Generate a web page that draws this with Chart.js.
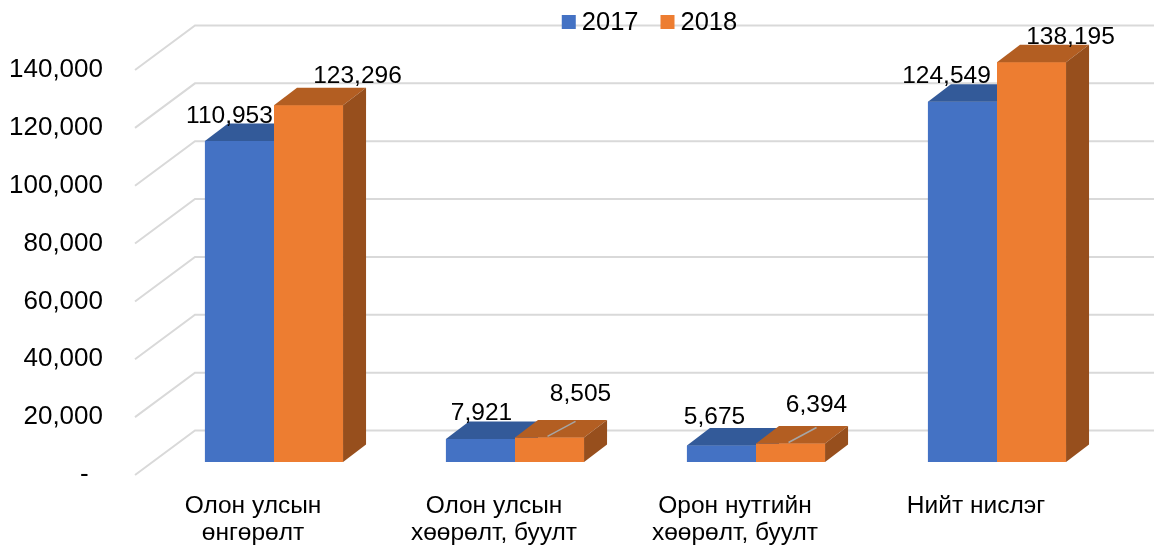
<!DOCTYPE html>
<html>
<head>
<meta charset="utf-8">
<script src="https://cdn.jsdelivr.net/npm/chart.js@4.4.1/dist/chart.umd.min.js"></script>
<style>
  html, body { margin: 0; padding: 0; background: #ffffff; }
  #wrap { width: 1154px; height: 546px; position: relative; }
</style>
</head>
<body>
<div id="wrap"><canvas id="flights"></canvas></div>
<script>
// Flight counts by type, 2017 vs 2018
const categories = [
    ['Олон улсын', 'өнгөрөлт'],
    ['Олон улсын', 'хөөрөлт, буулт'],
    ['Орон нутгийн', 'хөөрөлт, буулт'],
    ['Нийт нислэг']
];
const years = ['2017', '2018'];
const flights2017 = [110953, 7921, 5675, 124549];
const flights2018 = [123296, 8505, 6394, 138195];
const yTicks = [0, 20000, 40000, 60000, 80000, 100000, 120000, 140000];

// value label placement, relative to the top-centre of each bar front
const labelOffsets2017 = [[-10, -25], [1, -26], [-7, -28], [-16, -25]];
const labelOffsets2018 = [[49, -29], [31, -43], [26, -38], [39, -25]];
const leaders2018 = [false, true, true, false];

const FONT = '"Liberation Sans", Arial, sans-serif';
const DEPTH = { dx: 23, dy: -17.5 };
const faces = [
    { front: '#4472C4', top: '#335A99', side: '#2C4F86' },
    { front: '#ED7D31', top: '#B35E22', side: '#974F1D' }
];
const gridColor = '#D9D9D9';

const fmt = v => v === 0 ? '-  ' : v.toLocaleString('en-US');

// back wall + side wall gridlines, drawn behind the bars
const wallPlugin = {
    id: 'wall',
    beforeDatasetsDraw(chart) {
        const { ctx, chartArea, scales: { y } } = chart;
        const x0 = chartArea.left - 18.5, x1 = chartArea.left + 41.5;
        ctx.save();
        ctx.strokeStyle = gridColor;
        ctx.lineWidth = 2;
        yTicks.forEach(v => {
            const py = y.getPixelForValue(v);
            ctx.beginPath();
            ctx.moveTo(x0, py + 13);
            ctx.lineTo(x1, py - 31.5);
            ctx.lineTo(chart.width, py - 31.5);
            ctx.stroke();
        });
        ctx.restore();
    }
};

function poly(ctx, pts, color) {
    ctx.fillStyle = color;
    ctx.beginPath();
    ctx.moveTo(pts[0][0], pts[0][1]);
    for (let i = 1; i < pts.length; i++) ctx.lineTo(pts[i][0], pts[i][1]);
    ctx.closePath();
    ctx.fill();
}

// extrude every bar: front (library element), then top and right side
const bar3dPlugin = {
    id: 'bar3d',
    afterDatasetsDraw(chart) {
        const { ctx } = chart;
        const { dx, dy } = DEPTH;
        ctx.save();
        categories.forEach((_, idx) => {
            chart.data.datasets.forEach((ds, di) => {
                const bar = chart.getDatasetMeta(di).data[idx];
                const { x, y, base, width } = bar.getProps(['x', 'y', 'base', 'width'], true);
                const l = x - width / 2, r = x + width / 2;
                bar.draw(ctx);
                poly(ctx, [[l, y], [r, y], [r + dx, y + dy], [l + dx, y + dy]], faces[di].top);
                poly(ctx, [[r, y], [r + dx, y + dy], [r + dx, base + dy], [r, base]], faces[di].side);
            });
        });

        // value labels
        const offsets = [labelOffsets2017, labelOffsets2018];
        ctx.font = '24.5px ' + FONT;
        ctx.textAlign = 'center';
        ctx.textBaseline = 'middle';
        chart.data.datasets.forEach((ds, di) => {
            chart.getDatasetMeta(di).data.forEach((bar, idx) => {
                const { x, y } = bar.getProps(['x', 'y'], true);
                if (di === 1 && leaders2018[idx]) {
                    ctx.strokeStyle = '#A6A6A6';
                    ctx.lineWidth = 1.5;
                    ctx.beginPath();
                    ctx.moveTo(x - 2, y - 1);
                    ctx.lineTo(x + 26, y - 16);
                    ctx.stroke();
                }
                ctx.fillStyle = '#000000';
                const [ox, oy] = offsets[di][idx];
                ctx.fillText(fmt(ds.data[idx]), x + ox, y + oy);
            });
        });
        ctx.restore();
    }
};

// legend row above the plot
const legendPlugin = {
    id: 'legendRow',
    afterDraw(chart) {
        const { ctx, chartArea } = chart;
        ctx.save();
        ctx.font = '25.5px ' + FONT;
        ctx.textBaseline = 'middle';
        ctx.textAlign = 'left';
        const items = chart.data.datasets.map(ds => ({ label: ds.label, color: ds.backgroundColor, w: ctx.measureText(ds.label).width }));
        const box = 14, gap = 6, spacing = 22;
        const total = items.reduce((s, it) => s + box + gap + it.w, 0) + spacing * (items.length - 1);
        let x = (chartArea.left + chartArea.right) / 2 + 14 - total / 2;
        const cy = 22;
        items.forEach(it => {
            ctx.fillStyle = it.color;
            ctx.fillRect(x, cy - 7, box, box);
            ctx.fillStyle = '#000000';
            ctx.fillText(it.label, x + box + gap, cy + 1);
            x += box + gap + it.w + spacing;
        });
        ctx.restore();
    }
};

new Chart(document.getElementById('flights'), {
    type: 'bar',
    data: {
        labels: categories,
        datasets: [
            { label: years[0], data: flights2017, backgroundColor: faces[0].front, borderWidth: 0 },
            { label: years[1], data: flights2018, backgroundColor: faces[1].front, borderWidth: 0 }
        ]
    },
    options: {
        responsive: true,
        maintainAspectRatio: false,
        animation: false,
        devicePixelRatio: 1,
        layout: { padding: { top: 57, right: 36.5, bottom: 0, left: 0 } },
        datasets: { bar: { categoryPercentage: 0.573, barPercentage: 1.0 } },
        scales: {
            x: {
                grid: { display: false, drawTicks: false },
                border: { display: false },
                ticks: {
                    color: '#000000',
                    font: { family: FONT, size: 24.5, lineHeight: 1.1 },
                    padding: 31,
                    labelOffset: -21,
                    maxRotation: 0,
                    autoSkip: false
                },
                afterFit: s => { s.height = 84; s.paddingLeft = 0; s.paddingRight = 0; }
            },
            y: {
                min: 0,
                max: 140000,
                afterBuildTicks: s => { s.ticks = yTicks.map(v => ({ value: v })); },
                grid: { display: false, drawTicks: false },
                border: { display: false },
                ticks: {
                    color: '#000000',
                    font: { family: FONT, size: 26 },
                    padding: 50.5,
                    labelOffset: 13,
                    callback: v => fmt(v)
                },
                afterFit: s => { s.width = 153.5; s.paddingTop = 0; s.paddingBottom = 0; }
            }
        },
        plugins: {
            legend: { display: false },
            tooltip: { enabled: false }
        }
    },
    plugins: [wallPlugin, bar3dPlugin, legendPlugin]
});
</script>
</body>
</html>
